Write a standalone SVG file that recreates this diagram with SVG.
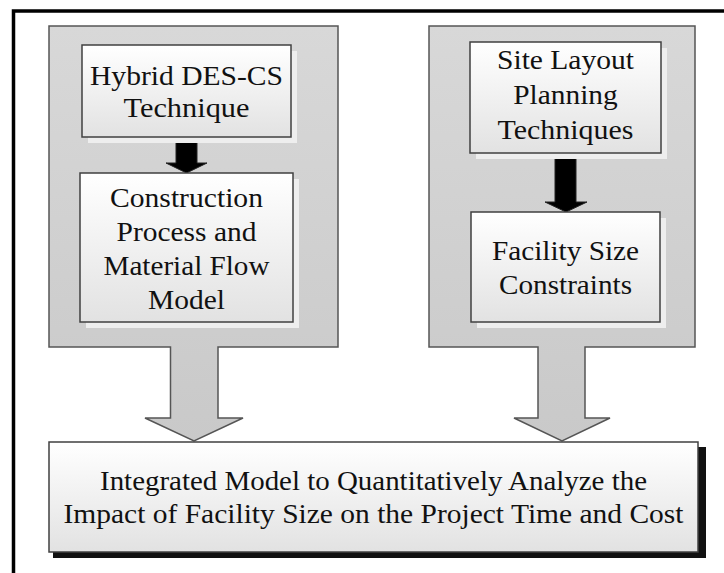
<svg xmlns="http://www.w3.org/2000/svg" width="724" height="573" viewBox="0 0 724 573">
  <defs>
    <linearGradient id="panelGrad" gradientUnits="userSpaceOnUse" x1="0" y1="26" x2="0" y2="441">
      <stop offset="0" stop-color="#d8d8d8"/>
      <stop offset="1" stop-color="#c9c9c9"/>
    </linearGradient>
    <linearGradient id="boxGrad" x1="0" y1="0" x2="0" y2="1">
      <stop offset="0" stop-color="#ffffff"/>
      <stop offset="1" stop-color="#e2e2e2"/>
    </linearGradient>
    <style>
      .panel { fill: url(#panelGrad); stroke: #555555; stroke-width: 1.5; }
      .box { fill: url(#boxGrad); stroke: #404040; stroke-width: 1.5; }
      .glow { fill: #eeeeee; }
      .shadow { fill: #111111; }
      .blk { fill: #000000; stroke: #222222; stroke-width: 1; }
      text { font-family: "Liberation Serif", "Times New Roman", serif; font-size: 27.5px; fill: #111111; text-anchor: middle; }
    </style>
  </defs>
  <rect x="0" y="0" width="724" height="573" fill="#ffffff"/>
  <path d="M13.5 573 V11 H724" fill="none" stroke="#000000" stroke-width="3.5"/>

  <g id="panel-left">
    <path class="panel" d="M49 26 H338 V347 H218 V418 H243 L194 441 L145 418 H170.5 V347 H49 Z"/>
  </g>
  <g id="panel-right">
    <path class="panel" d="M429 26 H695 V347 H585 V418 H610 L562 441 L514 418 H538 V347 H429 Z"/>
  </g>

  <g id="connectors">
    <path class="blk" d="M176 137 H197 V163 H207 L186.5 173 L166 163 H176 Z"/>
    <path class="blk" d="M555 153 H576 V202 H587 L566 212 L545 202 H555 Z"/>
  </g>

  <g id="node-hybrid">
    <rect class="glow" x="88" y="51" width="209" height="92"/>
    <rect class="box" x="82" y="45" width="209" height="92"/>
    <text x="186.5" y="85" textLength="193" lengthAdjust="spacingAndGlyphs">Hybrid DES-CS</text>
    <text x="186.5" y="117" textLength="126" lengthAdjust="spacingAndGlyphs">Technique</text>
  </g>

  <g id="node-construction">
    <rect class="glow" x="86" y="179" width="213" height="149"/>
    <rect class="box" x="80" y="173" width="213" height="149"/>
    <text x="186.5" y="207" textLength="153" lengthAdjust="spacingAndGlyphs">Construction</text>
    <text x="186.5" y="241" textLength="140" lengthAdjust="spacingAndGlyphs">Process and</text>
    <text x="186.5" y="275" textLength="166" lengthAdjust="spacingAndGlyphs">Material Flow</text>
    <text x="186.5" y="309" textLength="77" lengthAdjust="spacingAndGlyphs">Model</text>
  </g>

  <g id="node-site">
    <rect class="glow" x="476" y="48" width="191" height="111"/>
    <rect class="box" x="470" y="42" width="191" height="111"/>
    <text x="565.5" y="69" textLength="137" lengthAdjust="spacingAndGlyphs">Site Layout</text>
    <text x="565.5" y="104" textLength="104.5" lengthAdjust="spacingAndGlyphs">Planning</text>
    <text x="565.5" y="139" textLength="136" lengthAdjust="spacingAndGlyphs">Techniques</text>
  </g>

  <g id="node-facility">
    <rect class="glow" x="477" y="218" width="189" height="110"/>
    <rect class="box" x="471" y="212" width="189" height="110"/>
    <text x="565.5" y="260" textLength="147" lengthAdjust="spacingAndGlyphs">Facility Size</text>
    <text x="565.5" y="294" textLength="133" lengthAdjust="spacingAndGlyphs">Constraints</text>
  </g>

  <g id="node-integrated">
    <rect class="shadow" x="53" y="447" width="653" height="111"/>
    <rect class="box" x="49" y="442" width="649" height="110"/>
    <text x="373.5" y="490" textLength="547" lengthAdjust="spacingAndGlyphs">Integrated Model to Quantitatively Analyze the</text>
    <text x="373.5" y="523" textLength="620" lengthAdjust="spacingAndGlyphs">Impact of Facility Size on the Project Time and Cost</text>
  </g>
</svg>
